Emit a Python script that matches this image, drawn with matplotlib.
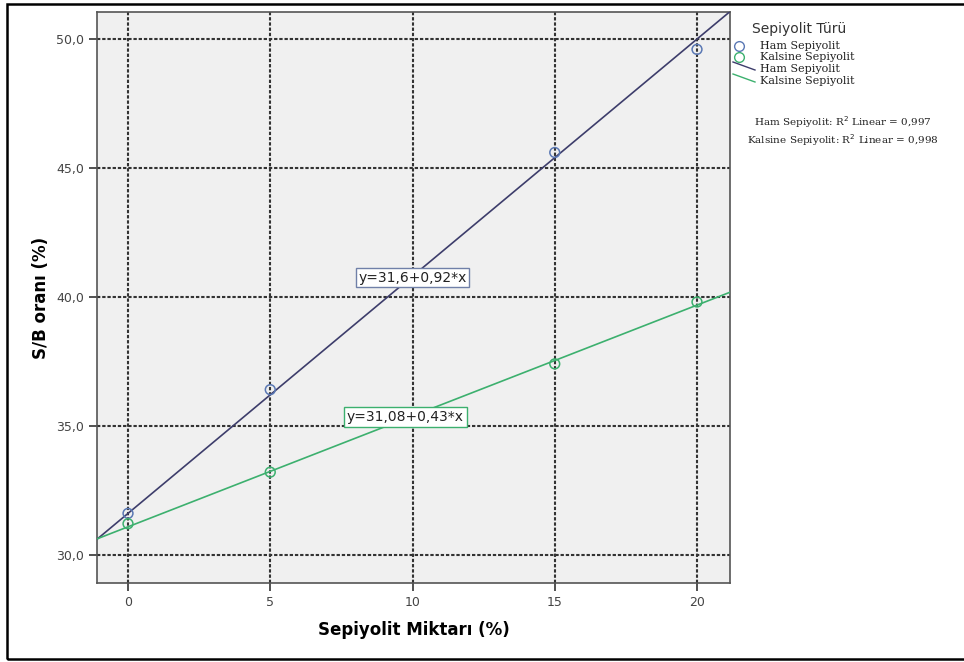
import numpy as np
import matplotlib.pyplot as plt
from matplotlib.patches import Rectangle
from matplotlib.lines import Line2D

# data
miktar = [0, 5, 15, 20]
ham = [31.6, 36.4, 45.6, 49.6]
kalsine = [31.2, 33.2, 37.4, 39.8]
ham_fit = (31.6, 0.92)
kalsine_fit = (31.08, 0.43)
x_ticks = [0, 5, 10, 15, 20]
y_ticks = [30, 35, 40, 45, 50]

ham_col = '#3d3d6b'
ham_pt = '#5a78b4'
kal_col = '#3cb06e'

fig = plt.figure(figsize=(9.64, 6.62), dpi=100)
# outer frame (right side runs off the image)
fig.patches.append(Rectangle((7 / 964, 1 - 659 / 662), 980 / 964, 655 / 662,
                             transform=fig.transFigure, fill=False,
                             edgecolor='black', linewidth=1.8))

ax = fig.add_axes([97 / 964, 1 - 583 / 662, 633 / 964, 571 / 662])
ax.set_facecolor('#f0f0f0')
ax.set_xlim(-1.09, 21.16)
ax.set_ylim(28.9, 51.05)

ax.grid(True, color='#333333', linestyle=(0, (1.6, 0.9)), linewidth=1.5)
ax.set_axisbelow(True)

xx = np.array(ax.get_xlim())
ax.plot(xx, ham_fit[0] + ham_fit[1] * xx, color=ham_col, lw=1.2, zorder=3)
ax.plot(xx, kalsine_fit[0] + kalsine_fit[1] * xx, color=kal_col, lw=1.2, zorder=3)
ax.scatter(miktar, ham, s=50, facecolors='none', edgecolors=ham_pt, linewidths=1.1, zorder=4)
ax.scatter(miktar, kalsine, s=50, facecolors='none', edgecolors=kal_col, linewidths=1.1, zorder=4)

ax.text(10, 40.75, 'y=31,6+0,92*x', ha='center', va='center', fontsize=10, color='#222222',
        bbox=dict(boxstyle='square,pad=0.2', facecolor='white', edgecolor='#7080a8'), zorder=5)
ax.text(9.75, 35.35, 'y=31,08+0,43*x', ha='center', va='center', fontsize=10, color='#222222',
        bbox=dict(boxstyle='square,pad=0.2', facecolor='white', edgecolor=kal_col), zorder=5)

ax.set_xticks(x_ticks)
ax.set_xticklabels([str(t) for t in x_ticks], fontsize=9, color='#444444')
ax.set_yticks(y_ticks)
ax.set_yticklabels([f'{t:.1f}'.replace('.', ',') for t in y_ticks], fontsize=9, color='#444444')
ax.tick_params(length=6, width=1.2, color='#333333')
for s in ax.spines.values():
    s.set_color('#555555')
    s.set_linewidth(1.2)

ax.set_xlabel('Sepiyolit Miktarı (%)', fontsize=12, fontweight='bold', va='center')
ax.xaxis.set_label_coords(0.5, -47 / 571)
ax.set_ylabel('S/B oranı (%)', fontsize=12, fontweight='bold', labelpad=4)

# legend drawn manually to the right
fig.text(752 / 964, 1 - 29 / 662, 'Sepiyolit Türü', fontsize=10, color='#333333', va='center')
lx = 735 / 964
fig.add_artist(Line2D([lx + 0.004], [1 - 46 / 662], marker='o', markersize=7,
                      markerfacecolor='none', markeredgecolor=ham_pt, transform=fig.transFigure))
fig.add_artist(Line2D([lx + 0.004], [1 - 57 / 662], marker='o', markersize=7,
                      markerfacecolor='none', markeredgecolor=kal_col, transform=fig.transFigure))
fig.add_artist(Line2D([733 / 964, 755 / 964], [1 - 62 / 662, 1 - 70 / 662], color=ham_col,
                      lw=1, transform=fig.transFigure))
fig.add_artist(Line2D([733 / 964, 755 / 964], [1 - 74 / 662, 1 - 82 / 662], color=kal_col,
                      lw=1, transform=fig.transFigure))
labels = ['Ham Sepiyolit', 'Kalsine Sepiyolit', 'Ham Sepiyolit', 'Kalsine Sepiyolit']
for i, lab in enumerate(labels):
    fig.text(760 / 964, 1 - (46 + 11.5 * i) / 662, lab, fontsize=8, family='DejaVu Serif',
             va='center', color='#222222')

fig.text(843 / 964, 1 - 122 / 662, 'Ham Sepiyolit: R$^2$ Linear = 0,997', fontsize=7.5,
         family='DejaVu Serif', ha='center', va='center', color='#222222')
fig.text(843 / 964, 1 - 140 / 662, 'Kalsine Sepiyolit: R$^2$ Linear = 0,998', fontsize=7.5,
         family='DejaVu Serif', ha='center', va='center', color='#222222')

fig.savefig('out.png', dpi=100)
